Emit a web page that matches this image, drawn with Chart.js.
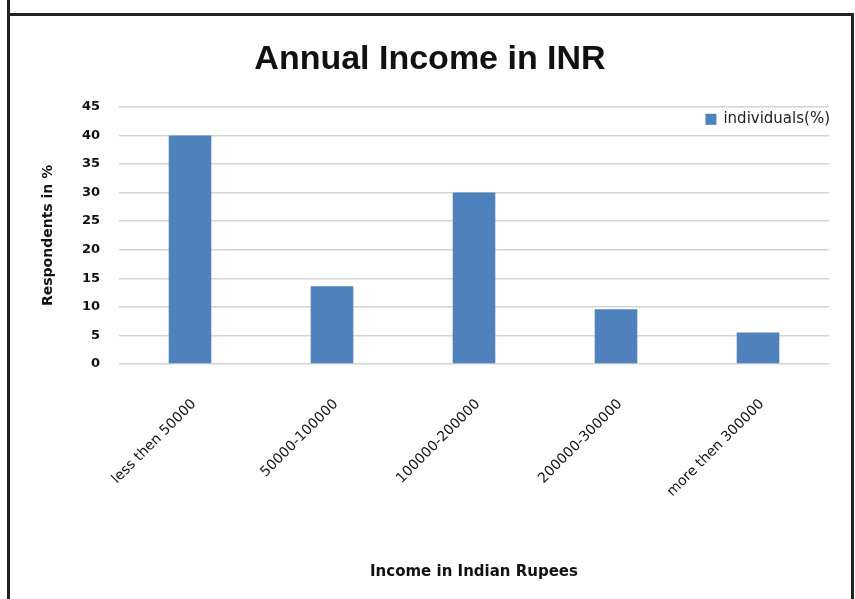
<!DOCTYPE html>
<html>
<head>
<meta charset="utf-8">
<title>Annual Income in INR</title>
<script src="https://cdn.jsdelivr.net/npm/chart.js@4.4.1/dist/chart.umd.min.js"></script>
<style>
  html, body { margin: 0; padding: 0; background: #fff; }
  #wrap { position: relative; width: 855px; height: 599px; overflow: hidden; }
  #incomeChart { position: absolute; left: 0; top: 0; }
  /* frame around the chart */
  .frame { position: absolute; left: 7px; top: 13px; width: 847px; height: 600px;
           box-sizing: border-box; border: 3px solid #222; border-bottom: none; pointer-events: none; }
  .frameTop { position: absolute; left: 7px; top: 0; width: 3px; height: 13px; background: #222; }
</style>
</head>
<body>
<div id="wrap">
  <canvas id="incomeChart" width="855" height="599"></canvas>
  <div class="frameTop"></div>
  <div class="frame"></div>
</div>
<script>
// income brackets and share of respondents
var incomeGroups = ['less then 50000', '50000-100000', '100000-200000', '200000-300000', 'more then 300000'];
var individualsPct = [40, 13.6, 30, 9.6, 5.5];
var yTicks = [0, 5, 10, 15, 20, 25, 30, 35, 40, 45];

// small legend tucked in the top right corner of the plot
var cornerLegend = {
  id: 'cornerLegend',
  afterDraw: function (chart) {
    var ds = chart.data.datasets[0];
    var c = chart.ctx;
    var area = chart.chartArea;
    c.save();
    c.font = '15px "DejaVu Sans", sans-serif';
    var w = c.measureText(ds.label).width;
    var x = area.right + 1 - w;
    var y = area.top + 12;
    c.fillStyle = ds.backgroundColor;
    c.fillRect(x - 18, y - 5, 11, 11);
    c.fillStyle = '#222';
    c.textBaseline = 'middle';
    c.fillText(ds.label, x, y);
    c.restore();
  }
};

var ctx = document.getElementById('incomeChart').getContext('2d');

var incomeChart = new Chart(ctx, {
  type: 'bar',
  data: {
    labels: incomeGroups,
    datasets: [
      {
        label: 'individuals(%)',
        data: individualsPct,
        backgroundColor: '#4F81BD',
        borderWidth: 0,
        barPercentage: 0.3,
        categoryPercentage: 1
      }
    ]
  },
  plugins: [cornerLegend],
  options: {
    responsive: false,
    animation: false,
    devicePixelRatio: 1,
    layout: {
      padding: { left: 31, right: 26, top: 14, bottom: 0 }
    },
    plugins: {
      title: {
        display: true,
        text: 'Annual Income in INR',
        color: '#111',
        font: { family: '"Liberation Sans", Arial, sans-serif', size: 34, weight: 'bold' },
        padding: { top: 25, bottom: 27 }
      },
      legend: { display: false },
      tooltip: { enabled: false }
    },
    scales: {
      y: {
        min: 0,
        max: 45,
        afterFit: function (scale) { scale.width = 88; },
        afterBuildTicks: function (scale) {
          scale.ticks = yTicks.map(function (v) { return { value: v }; });
        },
        grid: { color: '#d4d4d4', lineWidth: 1.5, drawTicks: false },
        border: { display: false },
        ticks: {
          color: '#111',
          padding: 19,
          font: { family: '"DejaVu Sans", sans-serif', size: 13, weight: 'bold' }
        },
        title: {
          display: true,
          text: 'Respondents in %',
          color: '#111',
          padding: { top: 9, bottom: 0 },
          font: { family: '"DejaVu Sans", sans-serif', size: 14, weight: 'bold' }
        }
      },
      x: {
        afterFit: function (scale) { scale.height = 235; },
        grid: { display: false, drawTicks: false },
        border: { display: false },
        ticks: {
          color: '#111',
          minRotation: 45,
          maxRotation: 45,
          padding: 32,
          labelOffset: 4,
          font: { family: '"DejaVu Sans", sans-serif', size: 14 }
        },
        title: {
          display: true,
          text: 'Income in Indian Rupees',
          color: '#111',
          padding: { top: 0, bottom: 18 },
          font: { family: '"DejaVu Sans", sans-serif', size: 15, weight: 'bold' }
        }
      }
    }
  }
});
</script>
</body>
</html>
